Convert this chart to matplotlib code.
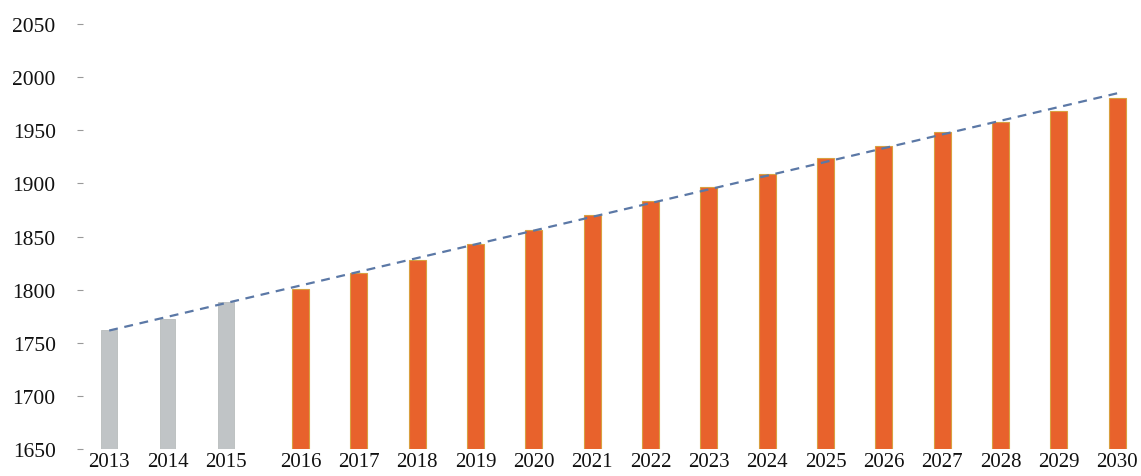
import numpy as np
import matplotlib.pyplot as plt

years = ["2013", "2014", "2015", "2016", "2017", "2018", "2019", "2020", "2021",
         "2022", "2023", "2024", "2025", "2026", "2027", "2028", "2029", "2030"]
actual = [1762, 1772, 1788]
forecast = [1801, 1816, 1828, 1843, 1856, 1870, 1883, 1897, 1909,
            1924, 1935, 1948, 1958, 1968, 1980]
yticks = [1650, 1700, 1750, 1800, 1850, 1900, 1950, 2000, 2050]

plt.rcParams['font.family'] = ['Liberation Serif', 'DejaVu Serif']

fig = plt.figure(figsize=(11.41, 4.77), dpi=100)
ax = fig.add_axes([80 / 1141, 27 / 477, 1 - 80 / 1141, 425 / 477])

# forecast group sits a bit further right than the regular spacing
n_act = len(actual)
x_act = np.arange(n_act)
x_fc = np.arange(n_act, len(years)) + 0.28
x_all = np.concatenate([x_act, x_fc])
vals = np.array(actual + forecast)

base = 1650
ax.bar(x_act, np.array(actual) - base, bottom=base, width=0.27,
       color='#c0c4c6', edgecolor='#b8bcbc', linewidth=0.6)
ax.bar(x_fc, np.array(forecast) - base, bottom=base, width=0.29,
       color='#e8622c', edgecolor='#d8a040', linewidth=0.8)

# linear trend line
k, b = np.polyfit(x_all, vals, 1)
ax.plot(x_all, k * x_all + b, ls=(0, (4, 3)), color='#5b78a6', lw=1.6)

ax.set_xlim(-0.5, x_fc[-1] + 0.41)
ax.set_ylim(1650, 2050)
ax.set_xticks(x_all)
ax.set_xticklabels(years, fontsize=15, color='#111111')
ax.set_yticks(yticks)
ax.set_yticklabels([str(t) for t in yticks], fontsize=15.5, color='#111111')
ax.tick_params(axis='x', length=0, pad=2)
ax.tick_params(axis='y', length=5, direction='inout', color='#999999', pad=15)
for s in ax.spines.values():
    s.set_visible(False)

fig.savefig('out.png', dpi=100)
